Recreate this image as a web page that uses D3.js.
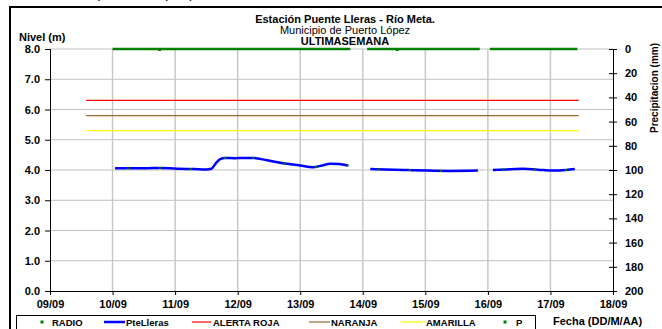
<!DOCTYPE html>
<html>
<head>
<meta charset="utf-8">
<script src="https://cdn.jsdelivr.net/npm/d3@7"></script>
<style>
  body { margin: 0; background: #fff; }
  svg { display: block; font-family: "Liberation Sans", Arial, sans-serif; }
</style>
</head>
<body>
<svg id="chart" width="662" height="329"></svg>
<script>
// Days counted from 09/09 00:00
var dayLabels = ["09/09", "10/09", "11/09", "12/09", "13/09", "14/09", "15/09", "16/09", "17/09", "18/09"];
var levelTicks = [0, 1, 2, 3, 4, 5, 6, 7, 8];
var rainTicks = [0, 20, 40, 60, 80, 100, 120, 140, 160, 180, 200];

// PteLleras level (m), null = gap in the record
var pteLleras = [
    [1.04, 4.06], [1.30, 4.06], [1.55, 4.06], [1.76, 4.07], [2.03, 4.04], [2.30, 4.03], [2.50, 4.02],
    [2.58, 4.04], [2.65, 4.22], [2.72, 4.36], [2.80, 4.40], [2.95, 4.39], [3.10, 4.40], [3.25, 4.40],
    [3.47, 4.32], [3.72, 4.22], [4.00, 4.15], [4.20, 4.09], [4.35, 4.15], [4.48, 4.21], [4.62, 4.20],
    [4.76, 4.15],
    null,
    [5.12, 4.03], [5.36, 4.02], [5.71, 4.00], [6.03, 3.98], [6.39, 3.97], [6.84, 3.98],
    null,
    [7.08, 4.00], [7.30, 4.02], [7.57, 4.04], [7.80, 4.01], [8.05, 3.98], [8.25, 4.00], [8.39, 4.03]
];

// RADIO readings (m)
var radio = [
    [1.25, 4.06], [1.76, 4.07], [2.25, 4.03], [2.80, 4.40], [3.25, 4.40], [3.75, 4.22],
    [4.25, 4.10], [4.76, 4.15], [5.25, 4.02], [5.75, 4.00], [6.25, 3.97], [7.25, 4.02],
    [7.75, 4.02], [8.25, 4.00]
];

// P precipitation (mm) records
var precip = [
    [1.00, 0], [1.75, 0], [2.50, 0], [3.25, 0], [4.00, 0], [4.80, 0], null,
    [5.07, 0], [5.60, 0], [6.00, 0], [6.50, 0], [6.87, 0], null,
    [7.03, 0], [7.50, 0], [8.00, 0], [8.43, 0]
];
var precipDots = [1.75, 5.55];

// Alert thresholds (m)
var alertNames = ["ALERTA ROJA", "NARANJA", "AMARILLA"];
var alertValues = [6.3, 5.8, 5.3];
var alertColors = ["#ff0000", "#996633", "#ffff00"];
var alertSpan = [0.58, 8.45];

var svg = d3.select("#chart");

var x = d3.scaleLinear().domain([0, 9]).range([50, 613]);
var y = d3.scaleLinear().domain([0, 8]).range([291, 49]);
var y2 = d3.scaleLinear().domain([0, 200]).range([49, 291]);

// outer frame
svg.append("path")
    .attr("d", "M10,329V7H662")
    .attr("fill", "none")
    .attr("stroke", "#000")
    .attr("stroke-width", 2);

// text cut at the top edge (page heading above the chart)
svg.append("text")
    .attr("x", 30).attr("y", -2)
    .style("font-size", "15px")
    .text("Río Meta (Puerto López)");

// grid
svg.append("g").selectAll("line")
    .data(levelTicks.slice(1))
    .join("line")
    .attr("x1", x(0)).attr("x2", x(9))
    .attr("y1", d => y(d)).attr("y2", d => y(d))
    .attr("stroke", "#c0c0c0").attr("stroke-width", 1);

svg.append("g").selectAll("line")
    .data(d3.range(1, 9))
    .join("line")
    .attr("x1", d => x(d)).attr("x2", d => x(d))
    .attr("y1", y(8)).attr("y2", y(0))
    .attr("stroke", "#c8c8c8").attr("stroke-width", 1.5);

// axes
var leftAxis = svg.append("g")
    .attr("transform", "translate(" + x(0) + ",0)")
    .call(d3.axisLeft(y).tickValues(levelTicks).tickFormat(d3.format(".1f")).tickSize(5).tickPadding(5));

var rightAxis = svg.append("g")
    .attr("transform", "translate(" + x(9) + ",0)")
    .call(d3.axisRight(y2).tickValues(rainTicks).tickSize(4).tickPadding(8).tickSizeOuter(0));
rightAxis.selectAll(".tick line").attr("x1", -4);

var bottomAxis = svg.append("g")
    .attr("transform", "translate(0," + y(0) + ")")
    .call(d3.axisBottom(x).tickValues(d3.range(0, 10)).tickFormat((d, i) => dayLabels[i]).tickSize(4).tickPadding(5).tickSizeOuter(0));

[leftAxis, rightAxis, bottomAxis].forEach(function(g) {
    g.selectAll("text").style("font-size", "11px").style("font-weight", "bold").attr("fill", "#000");
    g.selectAll("line, path").attr("stroke", "#000");
});

// alert lines
svg.append("g").selectAll("line")
    .data(alertValues)
    .join("line")
    .attr("x1", x(alertSpan[0])).attr("x2", x(alertSpan[1]))
    .attr("y1", d => y(d)).attr("y2", d => y(d))
    .attr("stroke", (d, i) => alertColors[i])
    .attr("stroke-width", 1.2);

// precipitation
svg.append("path")
    .datum(precip)
    .attr("d", d3.line().defined(d => d !== null).x(d => x(d[0])).y(d => y2(d[1])))
    .attr("fill", "none")
    .attr("stroke", "#008000")
    .attr("stroke-width", 2.5);

svg.append("g").selectAll("rect")
    .data(precipDots)
    .join("rect")
    .attr("x", d => x(d) - 1.5).attr("y", y2(0) - 1)
    .attr("width", 3).attr("height", 3)
    .attr("fill", "#008000");

// level line
svg.append("path")
    .datum(pteLleras)
    .attr("d", d3.line().defined(d => d !== null).curve(d3.curveMonotoneX).x(d => x(d[0])).y(d => y(d[1])))
    .attr("fill", "none")
    .attr("stroke", "#0000ff")
    .attr("stroke-width", 2.5);

svg.append("g").selectAll("rect")
    .data(radio)
    .join("rect")
    .attr("x", d => x(d[0]) - 1).attr("y", d => y(d[1]) - 1)
    .attr("width", 2).attr("height", 2)
    .attr("fill", "#008000");

// titles
var title = svg.append("g").attr("text-anchor", "middle").attr("fill", "#000");
title.append("text").attr("x", 345).attr("y", 23)
    .style("font-size", "11px").style("font-weight", "bold")
    .text("Estación Puente Lleras - Río Meta.");
title.append("text").attr("x", 345).attr("y", 34)
    .style("font-size", "11px")
    .text("Municipio de Puerto López");
title.append("text").attr("x", 345).attr("y", 45)
    .style("font-size", "11px").style("font-weight", "bold")
    .text("ULTIMASEMANA");

svg.append("text").attr("x", 19).attr("y", 41)
    .style("font-size", "11px").style("font-weight", "bold")
    .text("Nivel (m)");

svg.append("text")
    .attr("transform", "translate(658,88) rotate(-90)")
    .attr("text-anchor", "middle")
    .style("font-size", "10px").style("font-weight", "bold")
    .text("Precipitacion (mm)");

svg.append("text").attr("x", 553).attr("y", 325)
    .style("font-size", "11px").style("font-weight", "bold")
    .text("Fecha (DD/M/AA)");

// legend
svg.append("rect")
    .attr("x", 16.5).attr("y", 315.5)
    .attr("width", 519).attr("height", 30)
    .attr("fill", "none").attr("stroke", "#000");

var legendItems = [
    {name: "RADIO", type: "dot", color: "#008000", x0: 42, tx: 52},
    {name: "PteLleras", type: "line", color: "#0000ff", x0: 104, x1: 125, tx: 126, w: 2.5},
    {name: alertNames[0], type: "line", color: alertColors[0], x0: 192, x1: 211, tx: 213, w: 1.2},
    {name: alertNames[1], type: "line", color: alertColors[1], x0: 309, x1: 330, tx: 331, w: 1.2},
    {name: alertNames[2], type: "line", color: alertColors[2], x0: 401, x1: 425, tx: 426, w: 1.2},
    {name: "P", type: "dot", color: "#008000", x0: 505, tx: 516}
];

var lg = svg.append("g");
legendItems.forEach(function(it) {
    if (it.type === "dot") {
        lg.append("rect").attr("x", it.x0 - 1.5).attr("y", 320.5).attr("width", 3).attr("height", 3).attr("fill", it.color);
    } else {
        lg.append("line").attr("x1", it.x0).attr("x2", it.x1).attr("y1", 322).attr("y2", 322)
            .attr("stroke", it.color).attr("stroke-width", it.w);
    }
    lg.append("text").attr("x", it.tx).attr("y", 325.5)
        .style("font-size", "9.5px").style("font-weight", "bold")
        .text(it.name);
});
</script>
</body>
</html>
